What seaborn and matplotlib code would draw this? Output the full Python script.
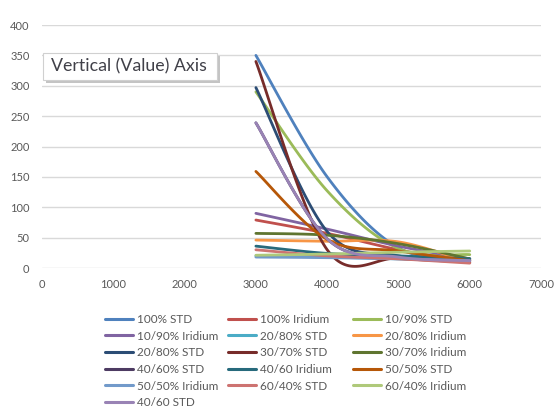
#!/usr/bin/env python
# encoding: utf-8

import numpy as np
import pandas as pd
import matplotlib
matplotlib.use("Agg")
import matplotlib.pyplot as plt
import matplotlib.patches as mpatches
from matplotlib.lines import Line2D
import seaborn as sns


OUTFILE = "out.png"

# x positions of the measurements
X_VALUES = [3000, 4000, 5000, 6000]

SERIES_NAMES = ["100% STD", "100% Iridium", "10/90% STD",
                "10/90% Iridium", "20/80% STD", "20/80% Iridium",
                "20/80% STD ", "30/70% STD", "30/70% Iridium",
                "40/60% STD", "40/60 Iridium", "50/50% STD",
                "50/50% Iridium", "60/40% STD", "60/40% Iridium",
                "40/60 STD"]

# Office 2007/2010 palette and its shades
SERIES_COLOURS = ["#4F81BD", "#C0504D", "#9BBB59", "#8064A2", "#4BACC6",
                  "#F79646", "#2C4D75", "#772C2A", "#5F7530", "#4D3B62",
                  "#276A7C", "#B65708", "#729ACA", "#CD7371", "#AFC97A",
                  "#9983B5"]

# values
STD_100 = [350, 150, 33, 15]
IRIDIUM_100 = [79, 57, 30, 9]
STD_10_90 = [290, 127, 32, 22]
IRIDIUM_10_90 = [90, 64, 36, 15]
STD_20_80_A = [20, 18, 15, 12]
IRIDIUM_20_80 = [46, 44, 43, 9]
STD_20_80_B = [297, 60, 20, 15]
STD_30_70 = [340, 30, 16, 10]
IRIDIUM_30_70 = [57, 54, 40, 15]
STD_40_60_A = [239, 48, 18, 12]
IRIDIUM_40_60 = [36, 24, 20, 15]
STD_50_50 = [159, 47, 28, 12]
IRIDIUM_50_50 = [18, 17, 15, 12]
STD_60_40 = [30, 20, 15, 8]
IRIDIUM_60_40 = [21, 23, 26, 28]
STD_40_60_B = [239, 48, 18, 12]

SERIES_VALUES = [STD_100, IRIDIUM_100, STD_10_90, IRIDIUM_10_90, STD_20_80_A,
                 IRIDIUM_20_80, STD_20_80_B, STD_30_70, IRIDIUM_30_70,
                 STD_40_60_A, IRIDIUM_40_60, STD_50_50, IRIDIUM_50_50,
                 STD_60_40, IRIDIUM_60_40, STD_40_60_B]

Y_TICKS = [0, 50, 100, 150, 200, 250, 300, 350, 400]
X_TICKS = [0, 1000, 2000, 3000, 4000, 5000, 6000, 7000]

FONT = "Lato"
TEXT_GREY = "#595959"
GRID_GREY = "#D9D9D9"


def smooth_line(xs, ys, steps=40):
    """
    Bezier smoothing the way a spreadsheet "smoothed line" draws it
    :params: the measured x and y points
    :return: x, y arrays of the drawn curve
    """
    pts = np.column_stack([xs, ys]).astype(float)
    padded = np.vstack([pts[:1], pts, pts[-1:]])
    t = np.linspace(0, 1, steps)[:, None]
    curve = []
    for i in range(len(pts) - 1):
        p0 = pts[i]
        p3 = pts[i + 1]
        c1 = p0 + (padded[i + 2] - padded[i]) / 6
        c2 = p3 - (padded[i + 3] - padded[i + 1]) / 6
        seg = ((1 - t) ** 3) * p0 + 3 * ((1 - t) ** 2) * t * c1 \
            + 3 * (1 - t) * t ** 2 * c2 + t ** 3 * p3
        curve.append(seg if i == 0 else seg[1:])
    curve = np.vstack(curve)
    return curve[:, 0], curve[:, 1]


def build_frame():
    rows = []
    for name, vals in zip(SERIES_NAMES, SERIES_VALUES):
        sx, sy = smooth_line(X_VALUES, vals)
        for order, (a, b) in enumerate(zip(sx, sy)):
            rows.append({"series": name, "x": a, "y": b, "order": order})
    return pd.DataFrame(rows)


def main():
    sns.set_style("white")
    plt.rcParams["font.family"] = [FONT, "DejaVu Sans"]

    fig = plt.figure(figsize=(5.57, 4.12), dpi=100)
    ax = fig.add_axes([0.0754, 0.3495, 0.896, 0.5898])

    df = build_frame()
    palette = dict(zip(SERIES_NAMES, SERIES_COLOURS))
    sns.lineplot(data=df, x="x", y="y", hue="series", units="series",
                 estimator=None, sort=False, palette=palette,
                 hue_order=SERIES_NAMES, lw=2.0, legend=False, ax=ax)

    ax.set_xlim(0, 7000)
    ax.set_ylim(0, 400)
    ax.set_xticks(X_TICKS)
    ax.set_yticks(Y_TICKS)
    ax.set_xlabel("")
    ax.set_ylabel("")
    ax.grid(axis="y", color=GRID_GREY, lw=1.0)
    ax.grid(axis="x", visible=False)
    ax.set_axisbelow(True)
    for side in ["top", "right", "left", "bottom"]:
        ax.spines[side].set_visible(False)
    ax.tick_params(axis="both", length=0, labelsize=8, labelcolor=TEXT_GREY)
    ax.tick_params(axis="y", pad=9)
    ax.tick_params(axis="x", pad=8)

    # legend, three columns filled row by row
    handles = [Line2D([], [], color=c, lw=2.2) for c in SERIES_COLOURS]
    col_x = [0.1885, 0.4093, 0.6338]
    for col in range(3):
        idx = list(range(col, len(SERIES_NAMES), 3))
        leg = fig.legend([handles[i] for i in idx],
                         [SERIES_NAMES[i].strip() for i in idx],
                         loc="upper left", bbox_to_anchor=(col_x[col], 0.238),
                         frameon=False, fontsize=8.5, handlelength=2.4,
                         handletextpad=0.35, labelspacing=0.48,
                         borderpad=0, borderaxespad=0)
        for txt in leg.get_texts():
            txt.set_color(TEXT_GREY)

    # the hover tip box left on the picture
    shadow = mpatches.Rectangle((0.0826, 0.7985), 0.3124, 0.0656,
                                transform=fig.transFigure, color="#C4C4C4",
                                lw=0, zorder=5)
    box = mpatches.Rectangle((0.0772, 0.8058), 0.3124, 0.0656,
                             transform=fig.transFigure, facecolor="white",
                             edgecolor="#D0D0D0", lw=0.8, zorder=6)
    fig.patches.extend([shadow, box])
    fig.text(0.0915, 0.838, "Vertical (Value) Axis", fontsize=12.8,
             color="#404048", va="center", ha="left", zorder=7)

    fig.savefig(OUTFILE, dpi=100)


if __name__ == '__main__':
    main()
